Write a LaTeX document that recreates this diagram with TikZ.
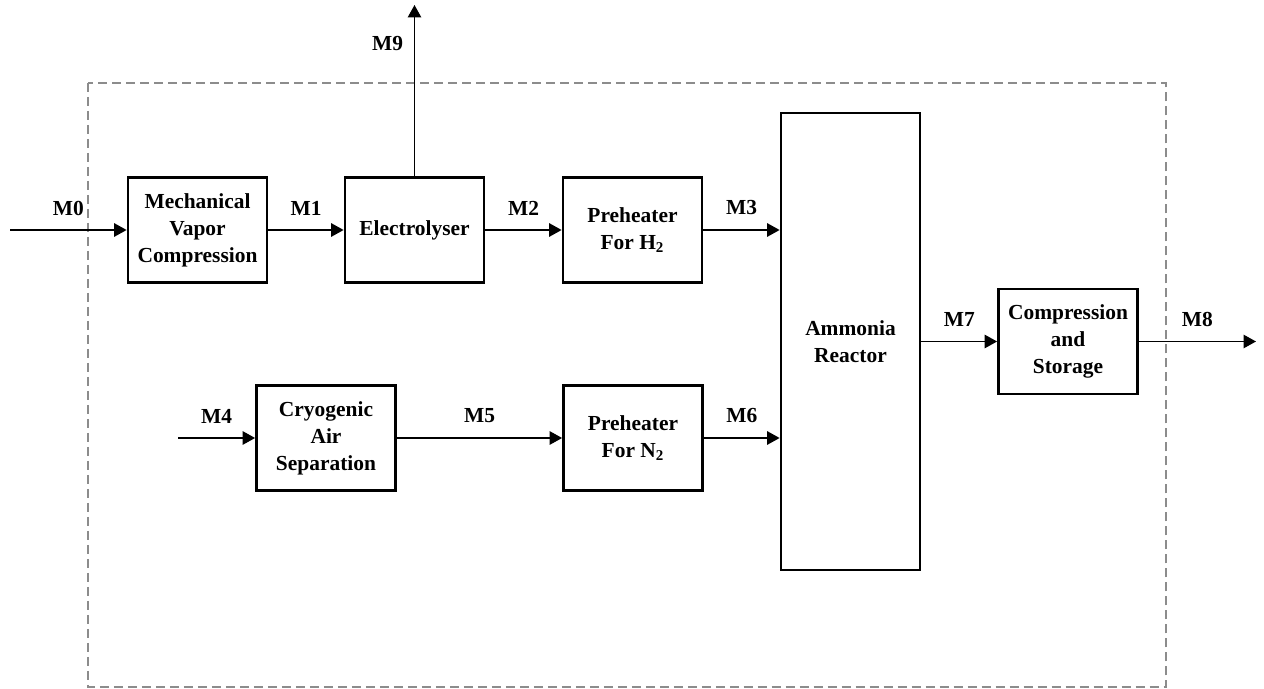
\documentclass[tikz,border=0pt]{standalone}
\usepackage{fontspec}
\setmainfont{Liberation Serif}
\usetikzlibrary{arrows.meta}

\begin{document}
\begin{tikzpicture}[x=0.02cm,y=-0.02cm,
  tag/.style={font=\bfseries\fontsize{12.2}{15.3}\selectfont},
  unit/.style={tag,draw,line width=1.6pt,minimum width=2.78cm,minimum height=2.1cm,align=center,inner sep=0pt},
  flow/.style={-{Triangle[length=0.25cm,width=0.27cm]},line width=0.75pt},
  lbl/.style={tag,midway,yshift=0.44cm}]
\useasboundingbox (0,0) rectangle (1264,689);
% system boundary
\draw[gray!90,line width=0.75pt,dash pattern=on 0.18cm off 0.1cm] (88,83) rectangle (1166,687);
% units
\node[unit] (mvc) at (197.5,230) {Mechanical\\Vapor\\Compression};
\node[unit] (elec) at (414.5,230) {Electrolyser};
\node[unit] (phH) at (632.5,230) {Preheater\\For H\textsubscript{2}};
\node[unit] (cas) at (326,438) {Cryogenic\\Air\\Separation};
\node[unit] (phN) at (633,438) {Preheater\\For N\textsubscript{2}};
\node[unit,minimum height=9.14cm] (reactor) at (850.5,341.5) {Ammonia\\Reactor};
\node[unit] (cs) at (1068,341.5) {Compression\\and\\Storage};
% free ends
\coordinate (in0) at (10,230);
\coordinate (in4) at (178,438);
\coordinate (out8) at (1256,341.5);
\coordinate (out9) at (414.5,5);
% streams
\draw[flow] (in0) -- node[lbl]{M0} (mvc);
\draw[flow] (mvc) -- node[lbl]{M1} (elec);
\draw[flow] (elec) -- node[lbl]{M2} (phH);
\draw[flow] (phH.east) -- node[lbl]{M3} (phH.east -| reactor.west);
\draw[flow] (in4) -- node[lbl]{M4} (cas);
\draw[flow] (cas) -- node[lbl]{M5} (phN);
\draw[flow] (phN.east) -- node[lbl]{M6} (phN.east -| reactor.west);
\draw[flow] (reactor) -- node[lbl]{M7} (cs);
\draw[flow] (cs) -- node[lbl]{M8} (out8);
\draw[flow] (elec.north) -- node[tag,pos=0.775,left=0.1cm]{M9} (out9);
\end{tikzpicture}
\end{document}
